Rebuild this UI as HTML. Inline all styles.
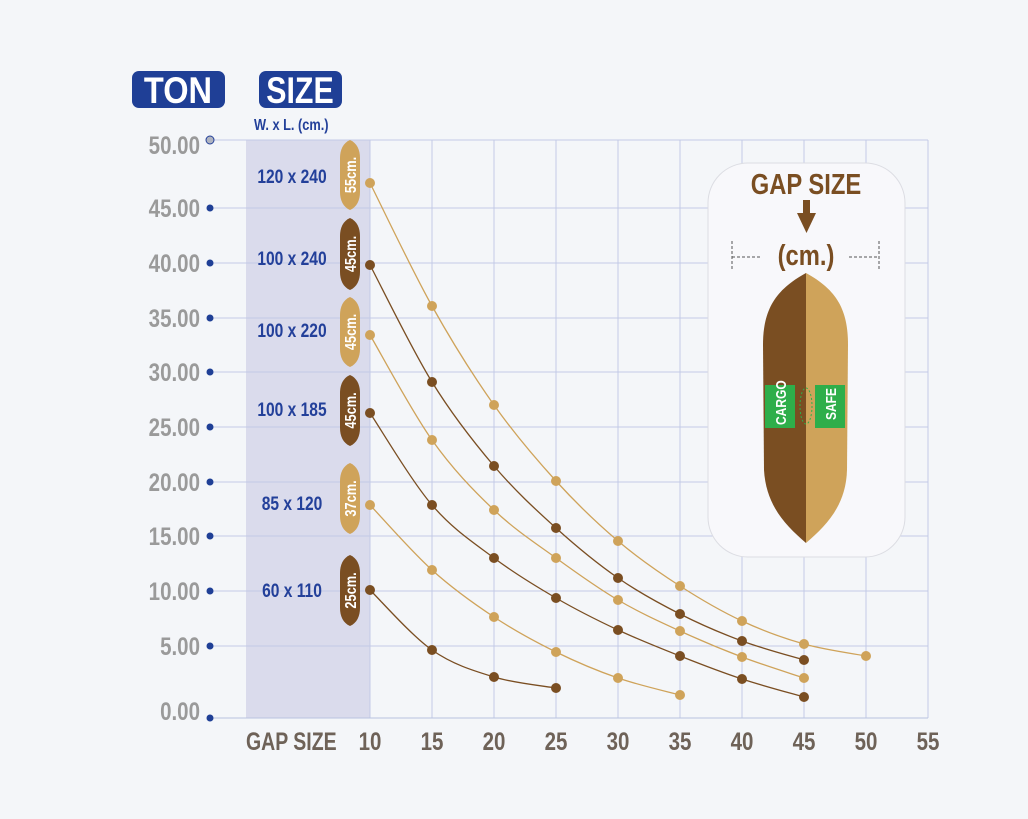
<!DOCTYPE html>
<html><head><meta charset="utf-8"><style>
html,body{margin:0;padding:0;background:#f4f6f9;}
svg{display:block;}
text{font-family:"Liberation Sans",sans-serif;font-weight:bold;}
</style></head><body>
<svg id="s" width="1028" height="819" viewBox="0 0 1028 819" xmlns="http://www.w3.org/2000/svg">
<rect width="1028" height="819" fill="#f4f6f9"/>
<rect x="246" y="140" width="124" height="578" fill="#dadbec"/>
<g id="grid" stroke="#c3cae6" stroke-width="1"></g>
<line x1="210" y1="718" x2="928" y2="718" stroke="#b9c3e0"/>
<rect x="132" y="71" width="93" height="37" rx="7" fill="#1f3f96"/>
<text x="178" y="103" fill="#fff" font-size="37" text-anchor="middle" transform="translate(178 0) scale(0.88 1) translate(-178 0)">TON</text>
<rect x="259" y="71" width="83" height="37" rx="7" fill="#1f3f96"/>
<text x="300" y="103" fill="#fff" font-size="37" text-anchor="middle" transform="translate(300 0) scale(0.82 1) translate(-300 0)">SIZE</text>
<text x="254" y="130" fill="#23409a" font-size="16" transform="translate(254 0) scale(0.8 1) translate(-254 0)">W. x L.  (cm.)</text>
<g id="ylab"></g>
<g id="xlab"></g>
<g id="sizes" fill="#23409a" font-size="19"></g>
<g id="badges"></g>
<g id="series"></g>
<rect x="708" y="163" width="197" height="394" rx="40" fill="#f8f8fb" stroke="#dcdde3"/>
<text x="806" y="194" fill="#7a4e22" font-size="29" text-anchor="middle" transform="translate(806 0) scale(0.82 1) translate(-806 0)">GAP SIZE</text>
<rect x="803" y="200" width="7" height="14" fill="#7a4e22"/>
<polygon points="797,213 816,213 806.5,233" fill="#7a4e22"/>
<text x="806" y="265" fill="#7a4e22" font-size="29" text-anchor="middle" transform="translate(806 0) scale(0.82 1) translate(-806 0)">(cm.)</text>
<line x1="732" y1="257" x2="762" y2="257" stroke="#555" stroke-dasharray="3,2"/>
<line x1="732" y1="241" x2="732" y2="271" stroke="#555" stroke-dasharray="3,2"/>
<line x1="849" y1="257" x2="879" y2="257" stroke="#555" stroke-dasharray="3,2"/>
<line x1="879" y1="241" x2="879" y2="271" stroke="#555" stroke-dasharray="3,2"/>
<path d="M806,273 C775,290 763,310 763,345 L764,470 C766,505 785,525 806,543 Z" fill="#7a4e22"/>
<path d="M806,273 C837,290 848,310 848,345 L847,470 C846,505 827,525 806,543 Z" fill="#cfa35a"/>
<rect x="765" y="385" width="30" height="43" fill="#2eae4a"/>
<rect x="815" y="385" width="30" height="43" fill="#2eae4a"/>
<text transform="translate(786 425) rotate(-90) scale(0.8 1)" fill="#fff" font-size="15">CARGO</text>
<text transform="translate(836 420) rotate(-90) scale(0.8 1)" fill="#fff" font-size="15">SAFE</text>
<ellipse cx="806" cy="406" rx="6" ry="18" fill="none" stroke="#2eae4a" stroke-dasharray="2,2"/>
</svg>
<script>
const NS="http://www.w3.org/2000/svg";
function el(p,t,a,txt){const e=document.createElementNS(NS,t);for(const k in a)e.setAttribute(k,a[k]);if(txt!==undefined)e.textContent=txt;document.getElementById(p).appendChild(e);return e;}
const ys=[718,646,591,536,482,427,372,318,263,208,140];
const yl=["0.00","5.00","10.00","15.00","20.00","25.00","30.00","35.00","40.00","45.00","50.00"];
const lyOff=[-7,0,0,0,0,0,0,0,0,0,5];
for(let i=1;i<ys.length;i++) el("grid","line",{x1:210,y1:ys[i],x2:928,y2:ys[i]});
for(let i=0;i<10;i++){const x=370+62*i;el("grid","line",{x1:x,y1:140,x2:x,y2:718});}
for(let i=0;i<ys.length;i++){
 const y=ys[i]+lyOff[i];
 el("ylab","text",{x:200,y:y+9,fill:"#9a9a9a","font-size":25,"text-anchor":"end",transform:`translate(200 0) scale(0.82 1) translate(-200 0)`},yl[i]);
 if(i==10) el("ylab","circle",{cx:210,cy:140,r:4,fill:"#b0b4c0",stroke:"#23409a","stroke-width":1});
 else el("ylab","circle",{cx:210,cy:ys[i],r:3.5,fill:"#1f3f96"});
}
for(let i=0;i<10;i++){const x=370+62*i;el("xlab","text",{x:x,y:750,fill:"#6e6258","font-size":25,"text-anchor":"middle",transform:`translate(${x} 0) scale(0.82 1) translate(${-x} 0)`},String(10+5*i));}
el("xlab","text",{x:246,y:750,fill:"#6e6258","font-size":25,transform:"translate(246 0) scale(0.78 1) translate(-246 0)"},"GAP SIZE");
const sz=[["120 x 240",183],["100 x 240",265],["100 x 220",337],["100 x 185",416],["85 x 120",510],["60 x 110",597]];
sz.forEach(s=>el("sizes","text",{x:292,y:s[1],"text-anchor":"middle",transform:"translate(292 0) scale(0.82 1) translate(-292 0)"},s[0]));
const L="#cfa35a",D="#7a4e22";
const bd=[[140,210,L,"55cm."],[218,290,D,"45cm."],[297,367,L,"45cm."],[375,446,D,"45cm."],[463,534,L,"37cm."],[555,626,D,"25cm."]];
bd.forEach(b=>{const [t,bt,c,s]=b;const cx=350,w=10;
 el("badges","path",{d:`M${cx},${t} C${cx+7},${t+3} ${cx+w},${t+10} ${cx+w},${t+18} L${cx+w},${bt-18} C${cx+w},${bt-10} ${cx+7},${bt-3} ${cx},${bt} C${cx-7},${bt-3} ${cx-w},${bt-10} ${cx-w},${bt-18} L${cx-w},${t+18} C${cx-w},${t+10} ${cx-7},${t+3} ${cx},${t} Z`,fill:c});
 const my=(t+bt)/2;el("badges","text",{transform:`translate(${cx+6} ${my}) rotate(-90) scale(0.8 1)`,"text-anchor":"middle",fill:"#fff","font-size":16},s);
});
const S=[
[L,[183,306,405,481,541,586,621,644,656]],
[D,[265,382,466,528,578,614,641,660]],
[L,[335,440,510,558,600,631,657,678]],
[D,[413,505,558,598,630,656,679,697]],
[L,[505,570,617,652,678,695]],
[D,[590,650,677,688]]];
S.forEach(([c,v])=>{
 const p=v.map((y,i)=>[370+62*i,y]);
 let d=`M${p[0][0]},${p[0][1]}`;
 for(let i=0;i<p.length-1;i++){
  const p0=p[Math.max(i-1,0)],p1=p[i],p2=p[i+1],p3=p[Math.min(i+2,p.length-1)];
  const c1=[p1[0]+(p2[0]-p0[0])/6,p1[1]+(p2[1]-p0[1])/6],c2=[p2[0]-(p3[0]-p1[0])/6,p2[1]-(p3[1]-p1[1])/6];
  d+=` C${c1[0]},${c1[1]} ${c2[0]},${c2[1]} ${p2[0]},${p2[1]}`;
 }
 el("series","path",{d:d,fill:"none",stroke:c,"stroke-width":1.3});
 p.forEach(q=>el("series","circle",{cx:q[0],cy:q[1],r:5,fill:c}));
});
</script>
</body></html>
